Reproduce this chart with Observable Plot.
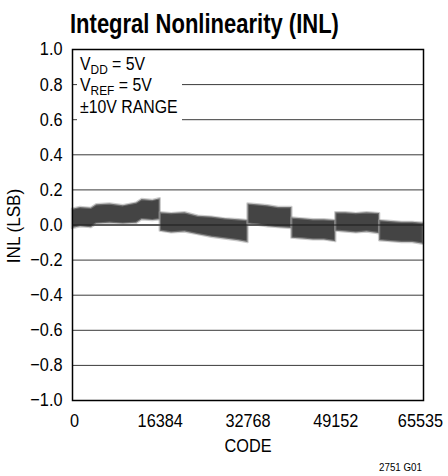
<!DOCTYPE html>
<html><head><meta charset="utf-8">
<script src="https://cdn.jsdelivr.net/npm/d3@7"></script>
<script src="https://cdn.jsdelivr.net/npm/@observablehq/plot@0.6"></script>
<style>
body{margin:0;background:#fff;}
#chart svg text{font-family:"Liberation Sans",Arial,sans-serif;}
</style></head><body><div id="chart"></div>
<script>
// INL band: segment id, code, upper and lower edge (LSB)
const seg = [1,1,1,1,1,1,1,1,1,1, 2,2,2,2,2,2,2,2, 3,3,3,3,3, 4,4,4,4,4, 5,5,5,5,5, 6,6,6,6,6];
const code = [0,1500,3500,4500,7000,9500,12000,13000,15000,16384,
              16384,18500,21000,23500,26000,28500,31000,32768,
              32768,34500,36500,38500,40960,
              40960,43000,45000,47000,49152,
              49152,51000,53000,55000,57344,
              57344,59500,61500,63500,65535];
const hi = [0.09,0.10,0.095,0.115,0.12,0.11,0.125,0.145,0.14,0.15,
            0.07,0.065,0.07,0.05,0.045,0.035,0.03,0.025,
            0.12,0.115,0.11,0.10,0.10,
            0.04,0.035,0.03,0.03,0.025,
            0.07,0.07,0.065,0.07,0.065,
            0.025,0.02,0.015,0.015,0.01];
const lo = [-0.02,-0.01,-0.015,0.005,0.01,0.005,0.01,0.03,0.025,0.03,
            -0.035,-0.045,-0.04,-0.055,-0.07,-0.08,-0.09,-0.10,
            0.005,0.0,-0.01,-0.015,-0.02,
            -0.075,-0.08,-0.085,-0.085,-0.095,
            -0.035,-0.04,-0.045,-0.04,-0.05,
            -0.09,-0.095,-0.10,-0.10,-0.11];
const yTicks = [-1,-0.8,-0.6,-0.4,-0.2,0,0.2,0.4,0.6,0.8,1];
const gridValues = [-0.8,-0.6,-0.4,-0.2,0,0.2,0.4,0.6,0.8];
const xTicks = [0,16384,32768,49152,65535];
const titleText = "Integral Nonlinearity (INL)";
const xLabel = "CODE";
const yLabel = "INL (LSB)";
const caption = "2751 G01";

const rows = code.map((c,i)=>({code:c, hi:hi[i], lo:lo[i], seg:seg[i]}));
const fmt = d => (d < 0 ? "\u2212" : "") + Math.abs(d).toFixed(1);

const chart = Plot.plot({
  width:448, height:476,
  marginLeft:72, marginRight:25, marginTop:49, marginBottom:76,
  style:{fontFamily:'"Liberation Sans", Arial, sans-serif', fontSize:"18.5px", color:"#000", background:"#fff", overflow:"visible"},
  x:{domain:[0,65535], label:null, axis:null},
  y:{domain:[-1,1], label:null, axis:null},
  marks:[
    Plot.ruleY(gridValues, {stroke:"#3a3a3a", strokeWidth:1}),
    Plot.areaY(rows, {x:"code", y1:"lo", y2:"hi", z:"seg", fill:"#444", stroke:"#999", strokeWidth:2.4, strokeOpacity:0.5}),
    Plot.ruleY([0], {stroke:"#1a1a1a", strokeWidth:1}),
    Plot.frame({stroke:"#000", strokeWidth:1.5}),
    Plot.axisY(yTicks, {tickSize:0, tickPadding:10, tickFormat:fmt, label:null}),
    Plot.text(xTicks, {x:d=>d, text:d=>String(d), frameAnchor:"bottom", lineAnchor:"top", dy:13, fill:"#000", fontSize:18.5})
  ]
});
document.getElementById("chart").append(chart);
const svg = d3.select(chart);

// white box behind the condition text
const areaG = chart.querySelector('g[aria-label="area"]');
const box = document.createElementNS("http://www.w3.org/2000/svg","rect");
box.setAttribute("x",77); box.setAttribute("y",51); box.setAttribute("width",105); box.setAttribute("height",72);
box.setAttribute("fill","#fff");
chart.insertBefore(box, areaG);

const scaleTargets = [];
chart.querySelectorAll("text").forEach(t => scaleTargets.push([t, 0.88]));

// nudge the first/last code labels as in the reference
const xTickTexts = chart.querySelectorAll('g[aria-label="text"] text');
if (xTickTexts.length) {
  xTickTexts[0].setAttribute("dx", 2);
  xTickTexts[xTickTexts.length-1].setAttribute("dx", -3);
}

// title
const tt = svg.append("text").attr("x",70).attr("y",33).attr("text-anchor","start").attr("font-size",27.5).attr("font-weight","bold").text(titleText);
scaleTargets.push([tt.node(), 0.8]);

// conditions
const cond = svg.append("g").attr("font-size",18).attr("text-anchor","start");
const l1 = cond.append("text").attr("x",80).attr("y",70);
l1.append("tspan").text("V");
l1.append("tspan").attr("dy",4).attr("font-size",13.5).text("DD");
l1.append("tspan").attr("dy",-4).text(" = 5V");
const l2 = cond.append("text").attr("x",80).attr("y",91);
l2.append("tspan").text("V");
l2.append("tspan").attr("dy",4).attr("font-size",13.5).text("REF");
l2.append("tspan").attr("dy",-4).text(" = 5V");
const l3 = cond.append("text").attr("x",80).attr("y",112.5).text("\u00B110V RANGE");
[l1,l2,l3].forEach(s => scaleTargets.push([s.node(), 0.88]));

// axis labels and caption
const xl = svg.append("text").attr("x",248).attr("y",452).attr("text-anchor","middle").attr("font-size",18.5).text(xLabel);
scaleTargets.push([xl.node(), 0.88]);
const yl = svg.append("text").attr("transform","translate(20,226) rotate(-90)").attr("text-anchor","middle").attr("font-size",18).text(yLabel);
scaleTargets.push([yl.node(), 0.95]);
const cp = svg.append("text").attr("x",422).attr("y",471).attr("text-anchor","end").attr("font-size",11.5).text(caption);
scaleTargets.push([cp.node(), 0.85]);

scaleTargets.forEach(([t,k]) => {
  const w = t.getComputedTextLength();
  if (w > 0) { t.setAttribute("textLength", (w*k).toFixed(2)); t.setAttribute("lengthAdjust","spacingAndGlyphs"); }
});
</script></body></html>
